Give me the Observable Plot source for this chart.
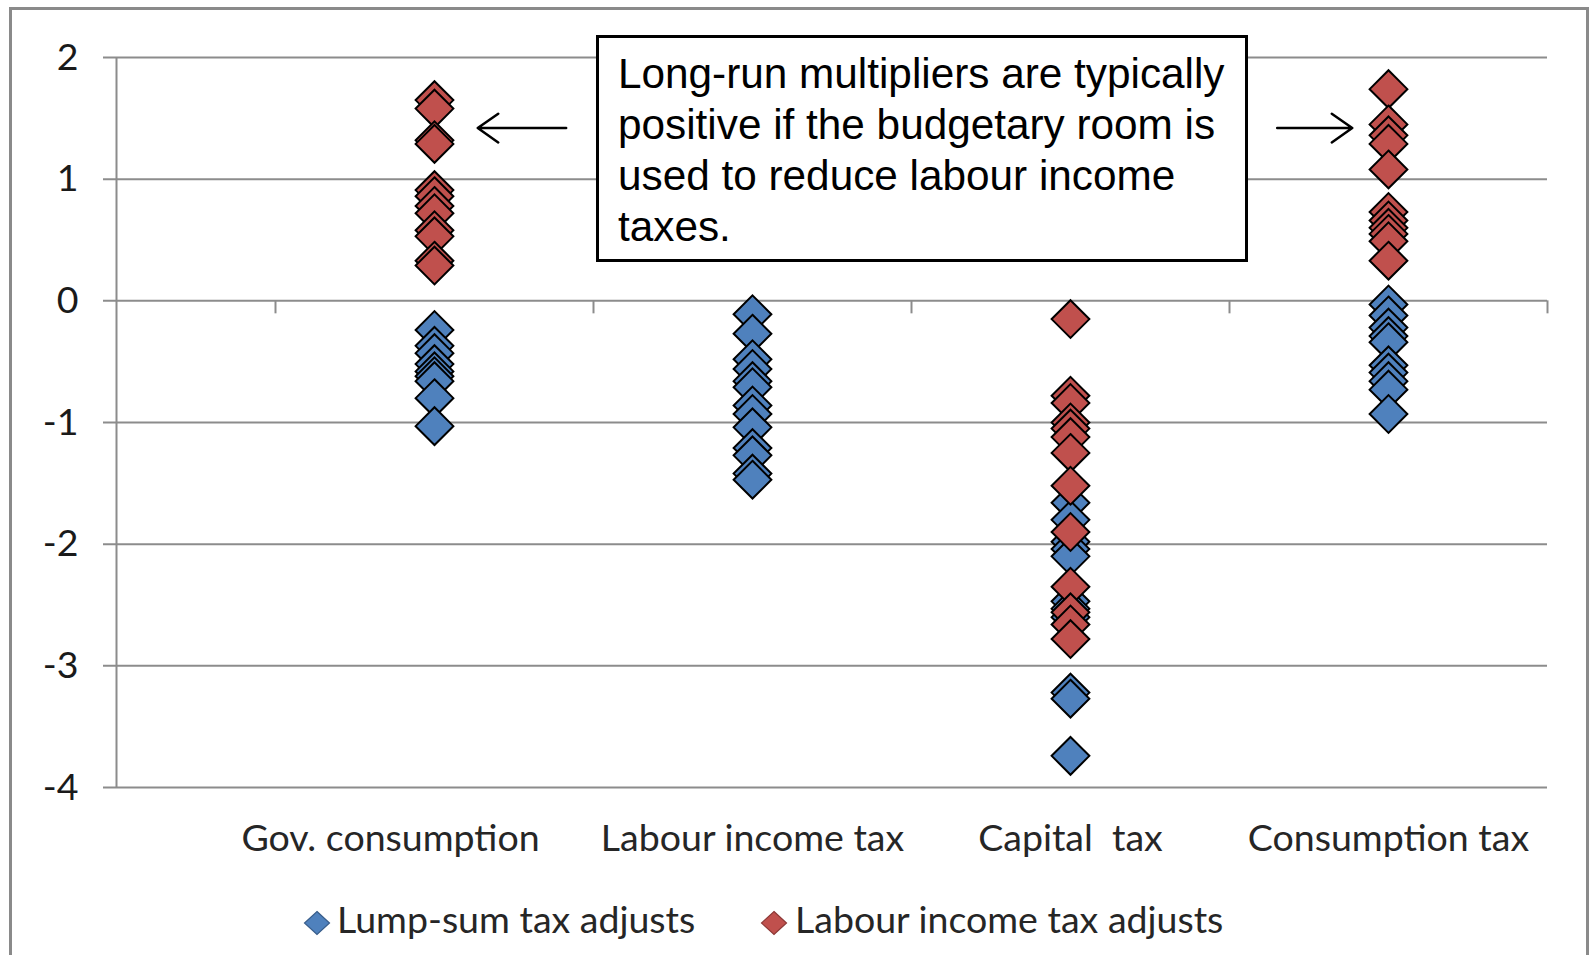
<!DOCTYPE html>
<html>
<head>
<meta charset="utf-8">
<script src="https://cdn.jsdelivr.net/npm/d3@7"></script>
<script src="https://cdn.jsdelivr.net/npm/@observablehq/plot@0.6"></script>
<style>
  html, body { margin: 0; padding: 0; background: #fff; }
  #wrap { position: relative; width: 1593px; height: 955px; overflow: hidden; background: #fff; }
  #frame { position: absolute; left: 9px; top: 7px; width: 1580px; height: 1000px; border: 3px solid #8a8a8a; box-sizing: border-box; }
  #chart { position: absolute; left: 0; top: 0; }
  #chart svg text { white-space: pre; }
  #note {
    position: absolute; left: 596px; top: 35px; width: 652px; height: 227px;
    box-sizing: border-box; border: 3px solid #000; background: #fff;
    font-family: "Liberation Sans", Arial, sans-serif; font-size: 42.3px; line-height: 51px;
    color: #000; padding: 10px 0 0 19px; white-space: nowrap;
  }
  .leg-text { position: absolute; font-family: Lato, sans-serif; font-size: 37.5px; line-height: 37.5px; color: #262626; white-space: pre; }
  .leg-key { position: absolute; }
</style>
</head>
<body>
<div id="wrap">
  <div id="frame"></div>
  <div id="chart"></div>
  <div id="note"></div>
  <div id="legend"></div>
</div>
<script>
// Categories of the fiscal shock (x axis)
const categories = ["Gov. consumption", "Labour income tax", "Capital  tax", "Consumption tax"];

// Long-run multipliers when lump-sum taxes adjust, per category
const lumpSumGov = [-0.24, -0.37, -0.43, -0.52, -0.58, -0.62, -0.66, -0.80, -1.03];
const lumpSumLabour = [-0.11, -0.27, -0.48, -0.56, -0.66, -0.71, -0.86, -0.93, -1.04, -1.21, -1.27, -1.42, -1.47];
const lumpSumCapital = [-1.66, -1.80, -1.98, -2.04, -2.10, -2.47, -2.53, -2.60, -3.22, -3.27, -3.74];
const lumpSumConsumption = [-0.03, -0.12, -0.22, -0.29, -0.34, -0.53, -0.59, -0.66, -0.73, -0.93];

// Long-run multipliers when labour income taxes adjust, per category
const labourAdjGov = [1.65, 1.58, 1.32, 1.29, 0.91, 0.86, 0.78, 0.72, 0.58, 0.53, 0.33, 0.29];
const labourAdjLabour = [];
const labourAdjCapital = [-0.15, -0.78, -0.84, -1.00, -1.05, -1.12, -1.25, -1.52, -1.90, -2.35, -2.56, -2.66, -2.78];
const labourAdjConsumption = [1.74, 1.45, 1.36, 1.29, 1.08, 0.73, 0.66, 0.60, 0.55, 0.49, 0.33];

const seriesNames = ["Lump-sum tax adjusts", "Labour income tax adjusts"];
const seriesColors = ["#4f81bd", "#c0504d"];
const seriesEdges = ["#385d8a", "#8c3836"];
const yTicks = [-4, -3, -2, -1, 0, 1, 2];

const noteLines = [
  "Long-run multipliers are typically",
  "positive if the budgetary room is",
  "used to reduce labour income",
  "taxes."
];

// Long table: one row per scenario marker (lump-sum series first, drawn underneath)
const seriesByCategory = [
  [lumpSumGov, lumpSumLabour, lumpSumCapital, lumpSumConsumption],
  [labourAdjGov, labourAdjLabour, labourAdjCapital, labourAdjConsumption]
];
const rows = [];
seriesByCategory.forEach((series, s) =>
  series.forEach((values, i) =>
    values.forEach(v => rows.push({cat: i, value: v, series: seriesNames[s]}))));

// Category boundaries carry the small tick marks hanging from the zero line
const bounds = d3.range(categories.length + 1).map(i => i - 0.5);

const W = 1593, H = 880;
const mTop = 57, mBottom = 93, mLeft = 116, mRight = 46;
const pxPerUnit = (H - mTop - mBottom) / (yTicks[yTicks.length - 1] - yTicks[0]);
const tickLen = 13 / pxPerUnit;
const grid = "#8c8c8c";

// Arrows pointing from the note to the two columns it refers to
const noteArrows = [
  {x1: 0.414, x2: 0.136, y: 1.42},
  {x1: 2.650, x2: 2.886, y: 1.42}
];

const chart = Plot.plot({
  width: W,
  height: H,
  marginTop: mTop,
  marginBottom: mBottom,
  marginLeft: mLeft,
  marginRight: mRight,
  style: {fontFamily: "Lato, sans-serif", fontSize: "37.5px", color: "#262626", background: "transparent", overflow: "visible"},
  x: {type: "linear", domain: [-1, categories.length - 0.5], axis: null},
  y: {domain: [yTicks[0], yTicks[yTicks.length - 1]], axis: null},
  color: {domain: seriesNames, range: seriesColors},
  marks: [
    Plot.ruleY(yTicks, {stroke: grid, strokeWidth: 2, insetLeft: -13}),
    Plot.ruleX([-1], {stroke: grid, strokeWidth: 2}),
    Plot.ruleX(bounds, {y1: 0, y2: -tickLen, stroke: grid, strokeWidth: 2}),
    Plot.text(yTicks, {x: -1, y: d => d, text: d => String(d), textAnchor: "end", dx: -38, fill: "#1a1a1a"}),
    Plot.dot(rows, {x: "cat", y: "value", fill: "series", stroke: "#000", strokeWidth: 2, symbol: "diamond2", r: 17}),
    Plot.text(categories.slice(0, 1), {x: (d, i) => i, y: yTicks[0], dy: 51, dx: -44, text: d => d, fill: "#262626"}),
    Plot.text(categories.slice(1), {x: (d, i) => i + 1, y: yTicks[0], dy: 51, text: d => d, fill: "#262626"}),
    Plot.arrow(noteArrows, {x1: "x1", y1: "y", x2: "x2", y2: "y", stroke: "#000", strokeWidth: 2.5, headLength: 15, headAngle: 70})
  ]
});
document.getElementById("chart").append(chart);

// Text box note
const note = d3.select("#note");
note.selectAll("div").data(noteLines).join("div").text(d => d);

// Legend below the chart
const legend = d3.select("#legend");
const legendItems = [
  {keyX: 303, textX: 337},
  {keyX: 760, textX: 795}
];
seriesNames.forEach((name, i) => {
  const key = legend.append("svg").attr("class", "leg-key")
    .attr("width", 28).attr("height", 26)
    .style("left", legendItems[i].keyX + "px").style("top", "910px");
  key.append("path")
    .attr("d", "M14,1.5 L26.5,13 L14,24.5 L1.5,13 Z")
    .attr("fill", seriesColors[i]).attr("stroke", seriesEdges[i]).attr("stroke-width", 1.2);
  legend.append("div").attr("class", "leg-text")
    .style("left", legendItems[i].textX + "px").style("top", "900px")
    .text(name);
});
</script>
</body>
</html>
